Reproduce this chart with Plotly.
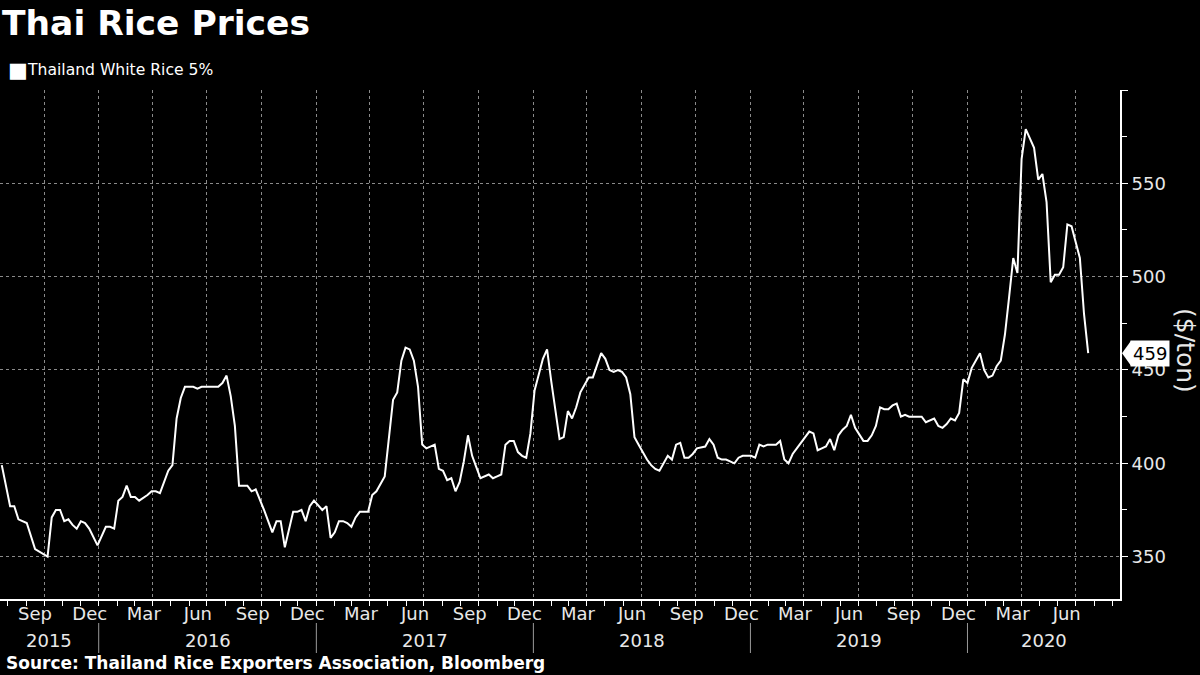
import pandas as pd
import plotly.graph_objects as go

# ---------------- data ----------------
chart_title = "Thai Rice Prices"
series_name = "Thailand White Rice 5%"
source_text = "Source: Thailand Rice Exporters Association, Bloomberg"
unit_label = "($/ton)"

first_obs = "2015-07-22"   # weekly observations (Wednesdays); offsets in weeks
week = [0, 2, 3, 4, 6, 8, 11, 12, 13, 14, 15, 16, 17, 18, 19, 20, 21, 23, 25, 26,
        27, 28, 29, 30, 31, 32, 33, 35, 36, 37, 38, 39, 40, 41, 42, 43, 44, 46, 47, 48,
        52, 53, 54, 55, 56, 57, 59, 60, 61, 63, 65, 66, 67, 68, 69, 70, 71, 72, 73, 74,
        75, 77, 78, 79, 80, 81, 82, 83, 84, 85, 86, 88, 89, 90, 92, 93, 94, 95, 96, 97,
        98, 99, 100, 101, 102, 104, 105, 106, 107, 108, 109, 110, 111, 112, 113, 114, 115, 117, 118, 119,
        120, 121, 122, 123, 124, 125, 126, 127, 128, 130, 131, 132, 133, 134, 135, 136, 137, 138, 139, 141,
        142, 143, 144, 145, 146, 147, 148, 149, 150, 151, 152, 153, 155, 156, 157, 158, 159, 160, 161, 162,
        163, 164, 165, 166, 167, 169, 170, 171, 172, 173, 174, 175, 176, 177, 178, 180, 181, 182, 183, 184,
        186, 187, 188, 189, 190, 191, 192, 194, 195, 196, 197, 198, 199, 200, 201, 202, 203, 204, 205, 207,
        208, 209, 210, 211, 212, 213, 214, 215, 216, 217, 218, 221, 222, 223, 224, 225, 226, 227, 228, 229,
        230, 231, 232, 233, 235, 236, 237, 238, 239, 240, 241, 242, 243, 244, 245, 246, 248, 249, 250, 251,
        252, 253, 254, 255, 256, 257, 258, 259, 260, 261]
price = [399, 377, 377, 370, 368, 354, 350, 371, 375, 375, 369, 370, 367, 365, 369, 368, 365, 356, 366, 366,
         365, 380, 382, 388, 382, 382, 380, 383, 385, 385, 384, 390, 396, 399, 424, 435, 441, 441, 440, 441,
         441, 443, 447, 436, 420, 388, 388, 385, 386, 375, 363, 369, 369, 355, 364, 374, 374, 375, 369, 377,
         380, 375, 377, 360, 363, 369, 369, 368, 366, 371, 374, 374, 383, 385, 393, 413, 434, 438, 455, 462,
         461, 455, 441, 410, 408, 410, 397, 396, 391, 392, 385, 390, 401, 415, 404, 398, 392, 394, 392, 393,
         394, 410, 412, 412, 406, 404, 403, 416, 439, 456, 461, 444, 427, 413, 414, 428, 424, 430, 438, 446,
         446, 453, 459, 456, 450, 449, 450, 449, 446, 437, 414, 410, 402, 399, 397, 396, 400, 404, 402, 410,
         411, 403, 403, 405, 408, 409, 413, 410, 403, 402, 402, 401, 400, 403, 404, 404, 403, 410, 409, 410,
         410, 412, 402, 400, 405, 408, 411, 417, 416, 407, 408, 409, 413, 407, 415, 418, 420, 426, 419, 412,
         412, 415, 420, 430, 429, 429, 431, 432, 425, 426, 425, 425, 422, 423, 424, 420, 419, 421, 424, 423,
         427, 445, 443, 451, 459, 450, 446, 447, 452, 455, 469, 489, 510, 502, 563, 579, 569, 552, 555, 540,
         497, 501, 501, 505, 528, 527, 518, 510, 480, 459]

y_tick_values = [350, 400, 450, 500, 550, 600]
years = [2015, 2016, 2017, 2018, 2019, 2020]
x_range = ["2015-07-19", "2020-09-13 12:00"]
y_range = [327.3, 600]

# ---------------- derived ----------------
dates = pd.Timestamp(first_obs) + pd.to_timedelta([7 * w for w in week], unit="D")

FONT = "DejaVu Sans"
TXT = "#e8e8e8"
GRID = "#8a8a8a"

# plot geometry (pixels) used for paper-coordinate placement of decorations
W, H = 1200, 675
ML, MR, MT, MB = 0, 80, 90, 76
PW, PH = W - ML - MR, H - MT - MB
def px_x(px):
    return (px - ML) / PW
def px_y(py):
    return (H - MB - py) / PH

q_ticks = pd.date_range("2015-10-01", "2020-07-01", freq="QS")
q_text = [(d - pd.Timedelta(days=1)).strftime("%b") for d in q_ticks]

fig = go.Figure()
fig.add_trace(go.Scatter(
    x=dates, y=price, mode="lines", name=series_name,
    line=dict(color="white", width=2), showlegend=False, hoverinfo="skip"))

annotations = []
shapes = []

# legend (square + label)
annotations.append(dict(xref="paper", yref="paper", x=px_x(6), y=px_y(70), xanchor="left",
                        yanchor="middle", text="■", showarrow=False,
                        font=dict(family=FONT, size=21, color="white")))
annotations.append(dict(xref="paper", yref="paper", x=px_x(25), y=px_y(70), xanchor="left",
                        yanchor="middle", text=series_name, showarrow=False,
                        font=dict(family=FONT, size=15.6, color="white")))

# year labels centred on the visible part of each year, separators at Jan 1
r0, r1 = pd.Timestamp(x_range[0]), pd.Timestamp(x_range[1])
for yv in years:
    a = max(pd.Timestamp(f"{yv}-01-01"), r0)
    b = min(pd.Timestamp(f"{yv + 1}-01-01"), r1)
    mid = a + (b - a) / 2
    annotations.append(dict(xref="x", yref="paper", x=mid, y=px_y(640), xanchor="center",
                            yanchor="middle", text=str(yv), showarrow=False,
                            font=dict(family=FONT, size=18, color=TXT)))
    sep = pd.Timestamp(f"{yv}-01-01")
    if r0 < sep < r1:
        shapes.append(dict(type="line", xref="x", yref="paper", x0=sep, x1=sep,
                           y0=px_y(623), y1=px_y(653), line=dict(color="#9a9a9a", width=1)))

# source
annotations.append(dict(xref="paper", yref="paper", x=px_x(4), y=px_y(663), xanchor="left",
                        yanchor="middle", text="<b>" + source_text + "</b>", showarrow=False,
                        font=dict(family=FONT, size=17, color="white")))

# unit label (rotated clockwise)
annotations.append(dict(xref="paper", yref="paper", x=px_x(1186), y=px_y(350), xanchor="center",
                        yanchor="middle", text=unit_label, showarrow=False, textangle=90,
                        font=dict(family=FONT, size=25, color=TXT)))

# last-value tag
last = price[-1]
annotations.append(dict(xref="paper", yref="y", x=px_x(1130), y=last, xanchor="left",
                        yanchor="middle", text=str(last), showarrow=False,
                        bgcolor="white", borderpad=2,
                        font=dict(family=FONT, size=18, color="black")))
units_per_px = (y_range[1] - y_range[0]) / PH
half = 12.5 * units_per_px
shapes.append(dict(type="path", xref="paper", yref="y",
                   path=f"M {px_x(1122)},{last} L {px_x(1131)},{last + half} "
                        f"L {px_x(1131)},{last - half} Z",
                   fillcolor="white", line=dict(color="white", width=0)))

fig.update_layout(
    width=W, height=H,
    paper_bgcolor="black", plot_bgcolor="black",
    margin=dict(l=ML, r=MR, t=MT, b=MB),
    title=dict(text="<b>" + chart_title + "</b>", x=2 / W, xref="container", xanchor="left",
               y=1 - 23 / H, yref="container", yanchor="middle",
               font=dict(family=FONT, size=34.5, color="white")),
    xaxis=dict(type="date", range=x_range, tickmode="array", tickvals=q_ticks, ticktext=q_text,
               ticklabelshift=-9, ticklabelstandoff=-7, ticks="outside", ticklen=5, tickcolor="white",
               showgrid=True, gridcolor=GRID, griddash="dot", gridwidth=1,
               showline=True, linecolor="white", linewidth=1.5, zeroline=False,
               tickfont=dict(family=FONT, size=18, color=TXT),
               minor=dict(dtick="M1", tick0="2015-08-01", ticks="outside", ticklen=5,
                          tickcolor="white", showgrid=False)),
    yaxis=dict(side="right", range=y_range, tickmode="array", tickvals=y_tick_values,
               ticktext=[str(v) if v < 600 else "" for v in y_tick_values],
               ticks="outside", ticklen=6, tickcolor="white",
               showgrid=True, gridcolor=GRID, griddash="dot", gridwidth=1,
               showline=True, linecolor="white", linewidth=2, zeroline=False,
               tickfont=dict(family=FONT, size=18, color=TXT),
               minor=dict(dtick=25, ticks="outside", ticklen=5, tickcolor="white", showgrid=False)),
    annotations=annotations,
    shapes=shapes,
    showlegend=False,
)

fig.write_html("out.html")
